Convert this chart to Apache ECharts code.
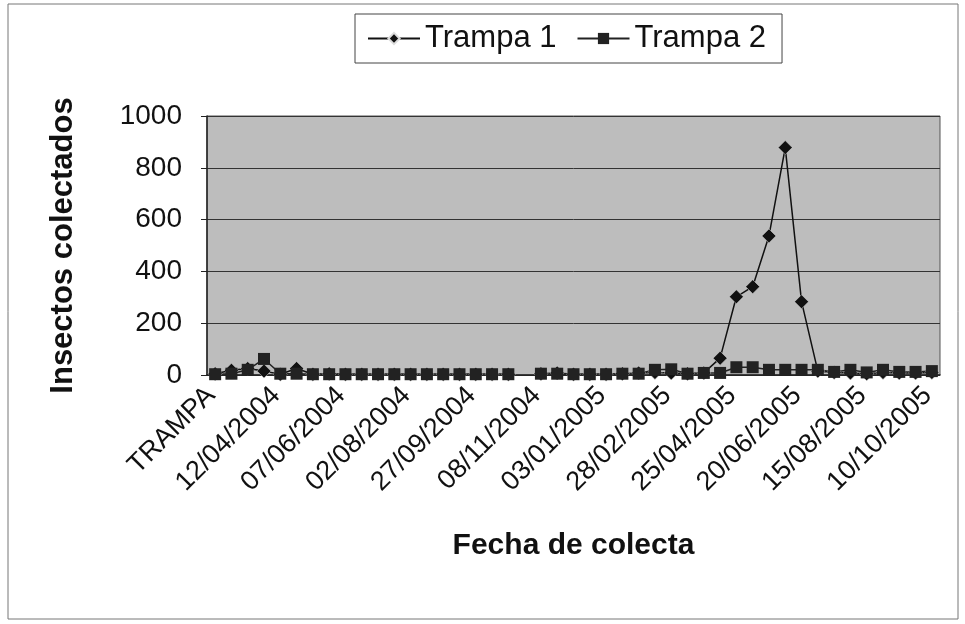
<!DOCTYPE html>
<html>
<head>
<meta charset="utf-8">
<script src="https://cdn.jsdelivr.net/npm/echarts@6/dist/echarts.min.js"></script>
<style>
html,body{margin:0;padding:0;background:#fff;}
#chart{width:965px;height:624px;}
</style>
</head>
<body>
<div id="chart"></div>
<script>
const categories = [
  "TRAMPA","01/03/2004","15/03/2004","29/03/2004","12/04/2004","26/04/2004","10/05/2004","24/05/2004",
  "07/06/2004","21/06/2004","05/07/2004","19/07/2004","02/08/2004","16/08/2004","30/08/2004","13/09/2004",
  "27/09/2004","11/10/2004","25/10/2004","01/11/2004","08/11/2004","22/11/2004","06/12/2004","20/12/2004",
  "03/01/2005","17/01/2005","31/01/2005","14/02/2005","28/02/2005","14/03/2005","28/03/2005","11/04/2005",
  "25/04/2005","09/05/2005","23/05/2005","06/06/2005","20/06/2005","04/07/2005","18/07/2005","01/08/2005",
  "15/08/2005","29/08/2005","12/09/2005","26/09/2005","10/10/2005"
];
const trampa1 = [5,18,25,15,3,25,3,5,3,3,3,3,3,3,3,3,3,3,3,null,5,8,3,3,3,5,8,10,8,5,8,65,302,341,537,878,283,15,10,8,5,10,8,8,10];
const trampa2 = [3,5,20,62,5,5,3,3,3,3,3,3,3,3,3,3,3,3,3,null,5,5,3,3,3,5,5,20,22,5,8,8,30,30,20,20,20,20,12,20,10,20,12,12,15];
const yTicks = {min:0, max:1000, interval:200};
const seriesNames = ["Trampa 1","Trampa 2"];

const chart = echarts.init(document.getElementById('chart'));
const ink = '#111';
const font = 'Liberation Sans, Arial, sans-serif';
chart.setOption({
  animation:false,
  backgroundColor:'#fff',
  textStyle:{fontFamily:font,color:ink},
  graphic:[{type:'rect',shape:{x:8,y:4,width:950,height:615},style:{fill:'none',stroke:'#777',lineWidth:1},z:-10}],
  legend:{
    left:355, top:14,
    data:seriesNames,
    itemWidth:52, itemHeight:14, itemGap:20,
    padding:[9,16,9,12],
    borderColor:'#444', borderWidth:1,
    textStyle:{fontSize:31,color:ink,fontFamily:font}
  },
  grid:{left:207,right:25,top:116,bottom:249,show:true,backgroundColor:'#bdbdbd',borderColor:'#555',borderWidth:1},
  xAxis:{
    type:'category',
    data:categories,
    boundaryGap:true,
    name:'Fecha de colecta',
    nameLocation:'middle',
    nameGap:156,
    nameTextStyle:{fontSize:30,fontWeight:'bold',color:ink,fontFamily:font},
    axisLine:{lineStyle:{color:'#222',width:1.5}},
    axisTick:{interval:0,length:6,lineStyle:{color:'#222'}},
    axisLabel:{interval:3,rotate:45,fontSize:27,color:ink,margin:12,padding:[0,6,0,0],fontFamily:font}
  },
  yAxis:{
    type:'value',
    min:yTicks.min,max:yTicks.max,interval:yTicks.interval,
    name:'Insectos colectados',
    nameLocation:'middle',
    nameGap:128,
    nameTextStyle:{fontSize:31,fontWeight:'bold',color:ink,fontFamily:font},
    axisLine:{show:true,lineStyle:{color:'#222',width:1.5}},
    axisTick:{show:true,length:6,lineStyle:{color:'#222'}},
    axisLabel:{fontSize:28,color:ink,margin:25,fontFamily:font,formatter:function(v){return String(v);}},
    splitLine:{lineStyle:{color:'#333',width:1}}
  },
  series:[
    {name:seriesNames[0],type:'line',data:trampa1,symbol:'diamond',symbolSize:14,showAllSymbol:true,connectNulls:false,
      lineStyle:{color:ink,width:1.5},itemStyle:{color:ink,borderColor:'#ddd',borderWidth:0.5}},
    {name:seriesNames[1],type:'line',data:trampa2,symbol:'rect',symbolSize:12,showAllSymbol:true,connectNulls:false,
      lineStyle:{color:'#222',width:1.5},itemStyle:{color:'#222'}}
  ]
});
</script>
</body>
</html>
